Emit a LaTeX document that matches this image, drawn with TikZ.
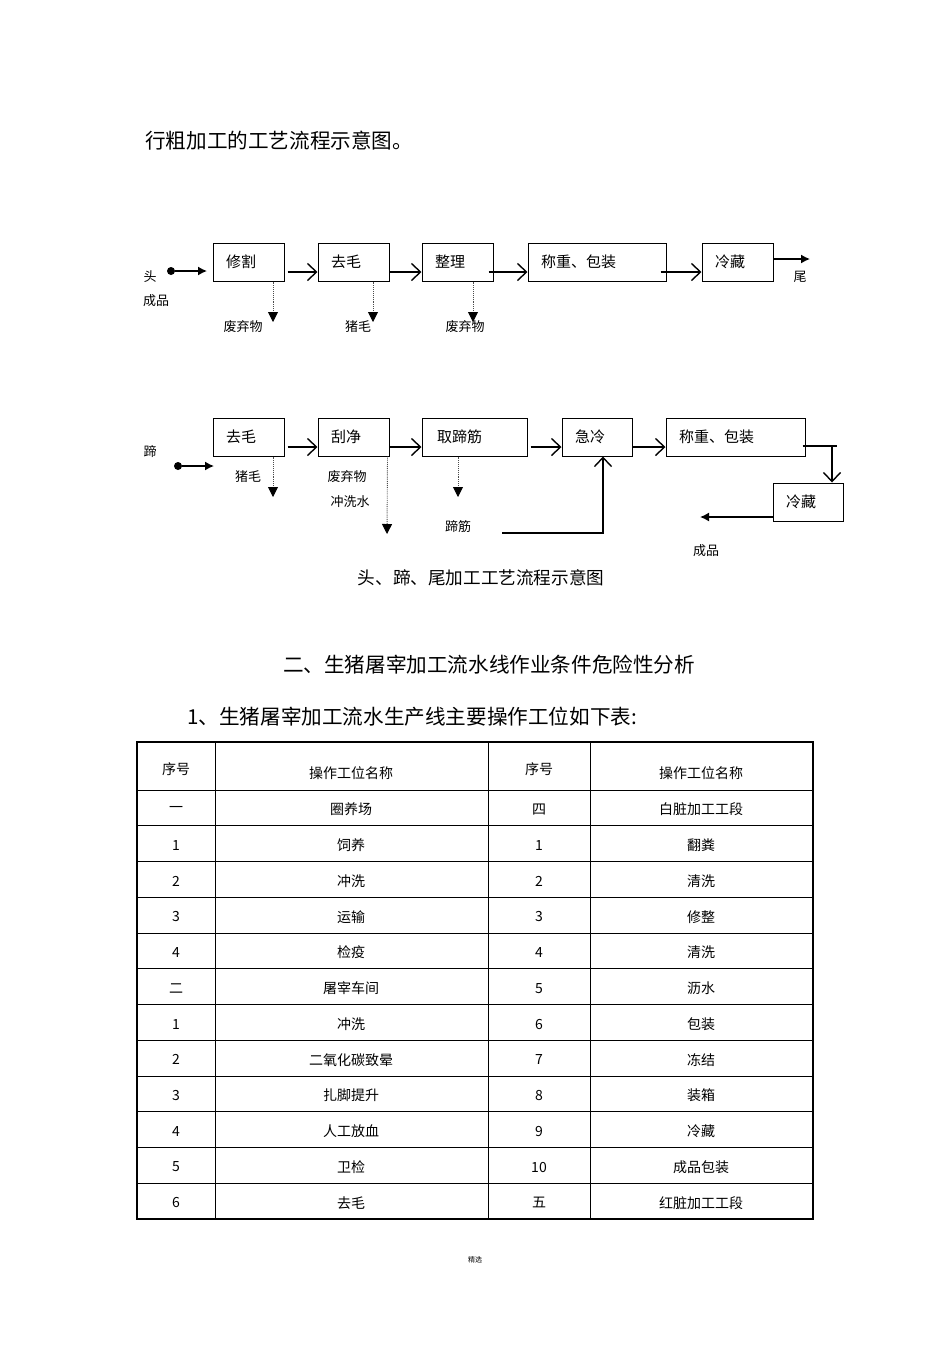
\documentclass[tikz,border=0pt]{standalone}
\usepackage{fontspec}
\setmainfont{Noto Sans CJK SC}
\usetikzlibrary{arrows.meta,calc}
\begin{document}
\begin{tikzpicture}[x=1pt,y=-1pt,
  proc/.style={draw, line width=1pt, minimum height=38pt, inner xsep=13pt, inner ysep=0pt, align=left, font=\fontsize{15}{18}\selectfont},
  lbl/.style={inner sep=0pt, font=\fontsize{13}{15}\selectfont},
  big/.style={inner sep=0pt, font=\fontsize{20.6}{24}\selectfont},
  cell/.style={inner sep=0pt, font=\fontsize{14}{16}\selectfont},
  oarrow/.style={line width=1.4pt, -{Straight Barb[length=9pt,width=17pt,line width=1.4pt]}},
  farrow/.style={line width=1.4pt, -{Latex[length=9pt,width=9pt]}},
  darrow/.style={densely dotted, line width=0.9pt, draw=black!70, -{Triangle[length=10pt,width=10pt,color=black,fill=black]}},
  dot/.style={circle, fill, inner sep=0pt, minimum size=8pt},
  grid/.style={line width=1pt}
]
\useasboundingbox (0,0) rectangle (950,1345);

% title
\node[big, anchor=west] (title) at (145,141) {行粗加工的工艺流程示意图。};

% ---------- row 1 ----------
\node[proc, text width=45pt] (a1) at (248.5,262) {修割};
\node[proc, text width=45pt] (a2) at (353.5,262) {去毛};
\node[proc, text width=45pt] (a3) at (457.5,262) {整理};
\node[proc, text width=112pt] (a4) at (597,262) {称重、包装};
\node[proc, text width=45pt] (a5) at (737.5,262) {冷藏};

\node[lbl] (tou) at (150,277) {头};
\node[lbl] (cp1) at (156,301) {成品};
\node[lbl] (wei) at (800,277) {尾};
\node[dot] (s1) at (171,271) {};
\coordinate (s1e) at (207,271);
\draw[farrow] (s1) -- (s1e);
\coordinate (e1) at (810,259);
\draw[farrow] ([yshift=3pt]a5.east) -- (e1);

\draw[oarrow] ([xshift=3pt,yshift=-10pt]a1.east) -- ([yshift=-10pt]a2.west);
\draw[oarrow] ([yshift=-10pt]a2.east) -- ([yshift=-10pt]a3.west);
\draw[oarrow] ([xshift=-5pt,yshift=-10pt]a3.east) -- ([yshift=-10pt]a4.west);
\draw[oarrow] ([xshift=-6pt,yshift=-10pt]a4.east) -- ([yshift=-10pt]a5.west);

\coordinate (d1) at (273,322);
\coordinate (d2) at (373,322);
\coordinate (d3) at (473,322);
\draw[darrow] ([xshift=24.5pt]a1.south) -- (d1);
\draw[darrow] ([xshift=19.5pt]a2.south) -- (d2);
\draw[darrow] ([xshift=15.5pt]a3.south) -- (d3);
\node[lbl] (w1) at (243,327) {废弃物};
\node[lbl] (w2) at (358,327) {猪毛};
\node[lbl] (w3) at (465,327) {废弃物};

% ---------- row 2 ----------
\node[proc, text width=45pt] (b1) at (248.5,437) {去毛};
\node[proc, text width=45pt] (b2) at (353.5,437) {刮净};
\node[proc, text width=75pt, inner xsep=15pt] (b3) at (474.5,437) {取蹄筋};
\node[proc, text width=44pt] (b4) at (597,437) {急冷};
\node[proc, text width=113pt] (b5) at (735.5,437) {称重、包装};
\node[proc, text width=44pt] (b6) at (808,502) {冷藏};

\node[lbl] (ti) at (150,452) {蹄};
\node[dot] (s2) at (178,466) {};
\coordinate (s2e) at (214,466);
\draw[farrow] (s2) -- (s2e);

\draw[oarrow] ([xshift=3pt,yshift=-10pt]b1.east) -- ([yshift=-10pt]b2.west);
\draw[oarrow] ([yshift=-10pt]b2.east) -- ([yshift=-10pt]b3.west);
\draw[oarrow] ([xshift=3pt,yshift=-10pt]b3.east) -- ([yshift=-10pt]b4.west);
\draw[oarrow] ([yshift=-10pt]b4.east) -- ([yshift=-10pt]b5.west);

\coordinate (k1) at (837,446);
\draw[line width=1.2pt] ([xshift=-3pt,yshift=-9pt]b5.east) -- (k1);
\draw[oarrow] (832,446) -- ([xshift=24pt]b6.north);
\coordinate (cp2a) at (700,517);
\draw[farrow] ([yshift=-15pt]b6.west) -- (cp2a);
\node[lbl] (cp2) at (706,551) {成品};

\coordinate (j0) at (502,533);
\draw[oarrow] (j0) -| ([xshift=6pt]b4.south);

\coordinate (f1) at (273,497);
\coordinate (f2) at (387,534);
\coordinate (f3) at (458,497);
\draw[darrow] ([xshift=24.5pt]b1.south) -- (f1);
\draw[darrow] ([xshift=-2pt]b2.south east) -- (f2);
\draw[darrow] ([xshift=-16.5pt]b3.south) -- (f3);
\node[lbl] (g1) at (248,477) {猪毛};
\node[lbl] (g2) at (347,477) {废弃物};
\node[lbl] (g3) at (350,502) {冲洗水};
\node[lbl] (g4) at (458,527) {蹄筋};

\node[inner sep=0pt, font=\fontsize{17.6}{20}\selectfont] (cap) at (481,578) {头、蹄、尾加工工艺流程示意图};

% ---------- headings ----------
\node[big] (h2) at (489,665) {二、生猪屠宰加工流水线作业条件危险性分析};
\node[big, anchor=west] (h3) at (187,717) {1、生猪屠宰加工流水生产线主要操作工位如下表:};

% ---------- table ----------
\draw[line width=1.4pt] (137,742) rectangle (813,1219);
\foreach \k in {0,...,11}{
  \draw[grid] (137,{790+35.75*\k}) -- (813,{790+35.75*\k});
}
\foreach \xx in {215,488,590}{
  \draw[grid] (\xx,742) -- (\xx,1219);
}
\node[cell] (hA) at (176,769) {序号};
\node[cell] (hB) at (351,773) {操作工位名称};
\node[cell] (hC) at (539,769) {序号};
\node[cell] (hD) at (701,773) {操作工位名称};

\foreach \r/\a/\b/\c/\d in {
  1/一/圈养场/四/白脏加工工段,
  2/1/饲养/1/翻粪,
  3/2/冲洗/2/清洗,
  4/3/运输/3/修整,
  5/4/检疫/4/清洗,
  6/二/屠宰车间/5/沥水,
  7/1/冲洗/6/包装,
  8/2/二氧化碳致晕/7/冻结,
  9/3/扎脚提升/8/装箱,
  10/4/人工放血/9/冷藏,
  11/5/卫检/10/成品包装,
  12/6/去毛/五/红脏加工工段}{
  \pgfmathsetmacro\yy{790+35.75*(\r-1)+19.5}
  \node[cell] (r\r a) at (176,\yy) {\a};
  \node[cell] (r\r b) at (351,\yy) {\b};
  \node[cell] (r\r c) at (539,\yy) {\c};
  \node[cell] (r\r d) at (701,\yy) {\d};
}

\node[inner sep=0pt, font=\fontsize{7}{8}\selectfont] (foot) at (475,1260) {精选};
\end{tikzpicture}
\end{document}
